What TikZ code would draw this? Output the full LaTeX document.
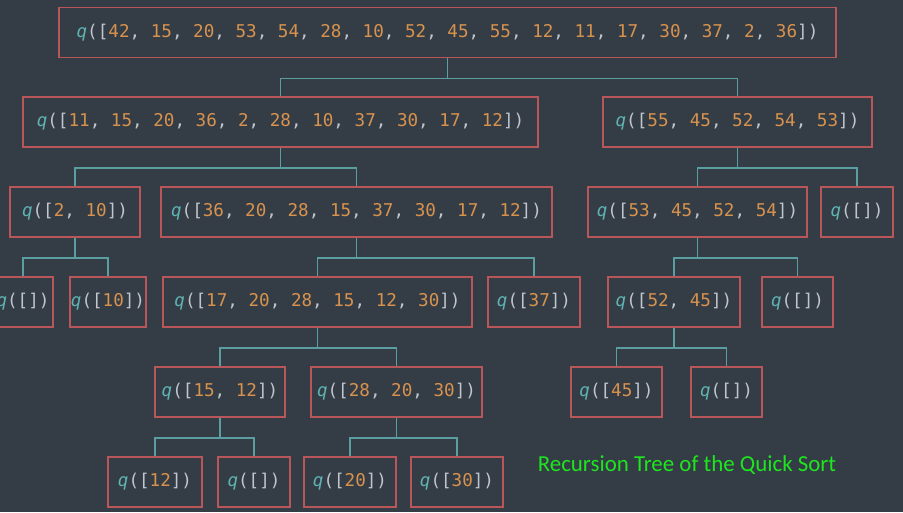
\documentclass[tikz,border=0pt]{standalone}
\usepackage{fontspec}
\setmonofont{DejaVu Sans Mono}
\newfontfamily\titlefont{Carlito}
\definecolor{bgcol}{HTML}{343D46}
\definecolor{boxred}{HTML}{B9565A}
\definecolor{linkteal}{HTML}{5A9EA2}
\definecolor{qcol}{HTML}{5FB3B3}
\definecolor{pcol}{HTML}{C0C5CE}
\definecolor{ncol}{HTML}{D8924E}
\definecolor{titlegreen}{HTML}{1EE61E}
% a call q([...]) with its pieces coloured
\newcommand\qcall[1]{{\color{qcol}\itshape q}{\color{pcol}([}#1{\color{pcol}])}}
\newcommand\qn[1]{{\color{ncol}#1}}
\newcommand\qsep{{\color{pcol},}\ }
\begin{document}
\begin{tikzpicture}[x=1pt,y=-1pt,
  box/.style={draw=boxred, line width=1.8pt, minimum height=50pt, inner sep=0pt,
    font=\ttfamily\fontsize{17.6}{20}\selectfont, text=pcol},
  link/.style={draw=linkteal, line width=1.8pt}]
\fill[bgcol] (0,0) rectangle (903,512);
\useasboundingbox (0,0) rectangle (903,512);

% level 0
\node[box, minimum width=777pt] (root) at (447.5,32.5)
  {\qcall{\qn{42}\qsep\qn{15}\qsep\qn{20}\qsep\qn{53}\qsep\qn{54}\qsep\qn{28}\qsep\qn{10}\qsep\qn{52}\qsep\qn{45}\qsep\qn{55}\qsep\qn{12}\qsep\qn{11}\qsep\qn{17}\qsep\qn{30}\qsep\qn{37}\qsep\qn{2}\qsep\qn{36}}};
% level 1
\node[box, minimum width=515pt] (a) at (280.5,122)
  {\qcall{\qn{11}\qsep\qn{15}\qsep\qn{20}\qsep\qn{36}\qsep\qn{2}\qsep\qn{28}\qsep\qn{10}\qsep\qn{37}\qsep\qn{30}\qsep\qn{17}\qsep\qn{12}}};
\node[box, minimum width=269pt] (b) at (737.5,122)
  {\qcall{\qn{55}\qsep\qn{45}\qsep\qn{52}\qsep\qn{54}\qsep\qn{53}}};
% level 2
\node[box, minimum width=130pt] (c) at (75,212) {\qcall{\qn{2}\qsep\qn{10}}};
\node[box, minimum width=391pt] (d) at (356.5,212)
  {\qcall{\qn{36}\qsep\qn{20}\qsep\qn{28}\qsep\qn{15}\qsep\qn{37}\qsep\qn{30}\qsep\qn{17}\qsep\qn{12}}};
\node[box, minimum width=219pt] (e) at (697.5,212)
  {\qcall{\qn{53}\qsep\qn{45}\qsep\qn{52}\qsep\qn{54}}};
\node[box, minimum width=72pt] (f) at (857,212) {\qcall{}};
% level 3
\node[box, minimum width=60pt] (g) at (23,302) {\qcall{}};
\node[box, minimum width=76pt] (h) at (108,302) {\qcall{\qn{10}}};
\node[box, minimum width=309pt] (i) at (317.5,302)
  {\qcall{\qn{17}\qsep\qn{20}\qsep\qn{28}\qsep\qn{15}\qsep\qn{12}\qsep\qn{30}}};
\node[box, minimum width=92pt] (j) at (534,302) {\qcall{\qn{37}}};
\node[box, minimum width=132pt] (k) at (674,302) {\qcall{\qn{52}\qsep\qn{45}}};
\node[box, minimum width=71pt] (l) at (797.5,302) {\qcall{}};
% level 4
\node[box, minimum width=130pt] (m) at (220,392) {\qcall{\qn{15}\qsep\qn{12}}};
\node[box, minimum width=171pt] (n) at (396.5,392) {\qcall{\qn{28}\qsep\qn{20}\qsep\qn{30}}};
\node[box, minimum width=91pt] (o) at (616.5,392) {\qcall{\qn{45}}};
\node[box, minimum width=71pt] (p) at (726.5,392) {\qcall{}};
% level 5
\node[box, minimum width=94pt] (q) at (155,482) {\qcall{\qn{12}}};
\node[box, minimum width=72pt] (r) at (254,482) {\qcall{}};
\node[box, minimum width=92pt] (s) at (350,482) {\qcall{\qn{20}}};
\node[box, minimum width=92pt] (t) at (457,482) {\qcall{\qn{30}}};

% elbow connectors: parent bottom -> bar 20pt below -> child top
\foreach \up/\ch in {root/a,root/b,a/c,a/d,b/e,b/f,c/g,c/h,d/i,d/j,e/k,e/l,i/m,i/n,k/o,k/p,m/q,m/r,n/s,n/t}{
  \draw[link] (\up.south) -- ++(0,20) -| (\ch.north);
}

\node[font=\titlefont\fontsize{22.9}{26}\selectfont, text=titlegreen] (title) at (687,465)
  {Recursion Tree of the Quick Sort};
\end{tikzpicture}
\end{document}
